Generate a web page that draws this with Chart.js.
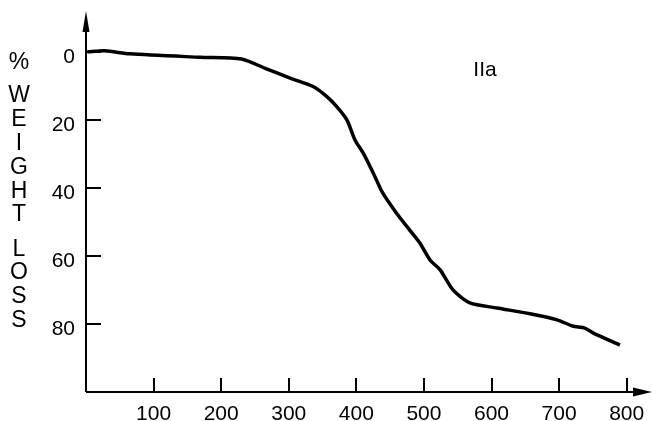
<!DOCTYPE html>
<html>
<head>
<meta charset="utf-8">
<script src="https://cdn.jsdelivr.net/npm/chart.js@4"></script>
<style>
  html, body { margin: 0; padding: 0; background: #fff; }
  #wrap { width: 652px; height: 421px; }
</style>
</head>
<body>
<div id="wrap"><canvas id="tga-chart" width="652" height="421"></canvas></div>
<script>
// temperature (deg C) and weight loss (%)
const temps = [2, 28, 65, 169, 230, 267, 302, 336, 356, 371, 386, 398, 410, 425, 439, 460, 479, 494, 509, 524, 543, 568, 608, 657, 697, 720, 738, 750, 790];
const weightLoss = [0, -0.3, 0.6, 1.6, 2.1, 5, 7.7, 10.2, 13.1, 16.1, 20, 25.9, 29.7, 35.6, 41.5, 47.6, 52.4, 56.2, 61.2, 64.1, 70, 73.8, 75.3, 77, 78.8, 80.6, 81.2, 82.6, 86.2];
const xTicks = [100, 200, 300, 400, 500, 600, 700, 800];
const yTicks = [0, 20, 40, 60, 80];
const yTitle = ['%', 'W', 'E', 'I', 'G', 'H', 'T', 'L', 'O', 'S', 'S'];
const sampleLabel = 'IIa';

const FONT = '"Liberation Sans", Arial, Helvetica, sans-serif';

// axis lines with arrowheads, inward tick marks, stacked axis title
const axesPlugin = {
  id: 'axesPlugin',
  afterDraw(chart) {
    const ctx = chart.ctx;
    const { left, top, bottom } = chart.chartArea;
    const xs = chart.scales.x, ys = chart.scales.y;
    ctx.save();
    ctx.strokeStyle = '#000';
    ctx.fillStyle = '#000';
    ctx.lineWidth = 2;
    ctx.beginPath();
    ctx.moveTo(left, bottom);
    ctx.lineTo(left, top + 12);
    ctx.moveTo(left, bottom);
    ctx.lineTo(chart.width - 12, bottom);
    // ticks pointing into the plot
    xTicks.forEach(v => {
      const px = Math.round(xs.getPixelForValue(v));
      ctx.moveTo(px, bottom);
      ctx.lineTo(px, bottom - 14);
    });
    yTicks.forEach(v => {
      const py = Math.round(ys.getPixelForValue(v));
      ctx.moveTo(left, py);
      ctx.lineTo(left + 15, py);
    });
    ctx.stroke();

    // arrowheads
    ctx.beginPath();
    ctx.moveTo(left, top);
    ctx.lineTo(left - 3.5, top + 21);
    ctx.lineTo(left + 3.5, top + 21);
    ctx.closePath();
    ctx.fill();
    ctx.beginPath();
    ctx.moveTo(chart.width, bottom);
    ctx.lineTo(chart.width - 19, bottom - 4.5);
    ctx.lineTo(chart.width - 19, bottom + 4.5);
    ctx.closePath();
    ctx.fill();

    // vertical title, one letter per line
    ctx.font = '23px ' + FONT;
    ctx.textAlign = 'center';
    ctx.textBaseline = 'middle';
    const rows = [63, 96, 120, 144, 168, 192, 215, 250, 273, 297, 321];
    yTitle.forEach((ch, i) => ctx.fillText(ch, 19, rows[i]));

    ctx.font = '21px ' + FONT;
    ctx.fillText(sampleLabel, 485, 70);
    ctx.restore();
  }
};

new Chart(document.getElementById('tga-chart').getContext('2d'), {
  type: 'line',
  data: {
    datasets: [{
      data: temps.map((t, i) => ({ x: t, y: weightLoss[i] })),
      borderColor: '#000',
      borderWidth: 3.5,
      pointRadius: 0,
      tension: 0.25,
      fill: false
    }]
  },
  options: {
    responsive: false,
    animation: false,
    layout: { padding: { top: 11, right: 1, left: 0, bottom: 0 } },
    plugins: { legend: { display: false }, tooltip: { enabled: false } },
    scales: {
      x: {
        type: 'linear',
        min: 0,
        max: 836,
        afterBuildTicks: s => { s.ticks = xTicks.map(v => ({ value: v })); },
        afterFit: s => { s.height = 29; s.paddingLeft = 0; s.paddingRight = 0; },
        grid: { display: false, drawTicks: false },
        border: { display: false },
        ticks: { color: '#000', font: { family: FONT, size: 21 }, padding: 10, maxRotation: 0, autoSkip: false }
      },
      y: {
        type: 'linear',
        reverse: true,
        min: -12,
        max: 100,
        afterBuildTicks: s => { s.ticks = yTicks.map(v => ({ value: v })); },
        afterFit: s => { s.width = 86; s.paddingTop = 0; s.paddingBottom = 0; },
        grid: { display: false, drawTicks: false },
        border: { display: false },
        ticks: { color: '#000', font: { family: FONT, size: 21 }, padding: 11, labelOffset: 5 }
      }
    }
  },
  plugins: [axesPlugin]
});
</script>
</body>
</html>
